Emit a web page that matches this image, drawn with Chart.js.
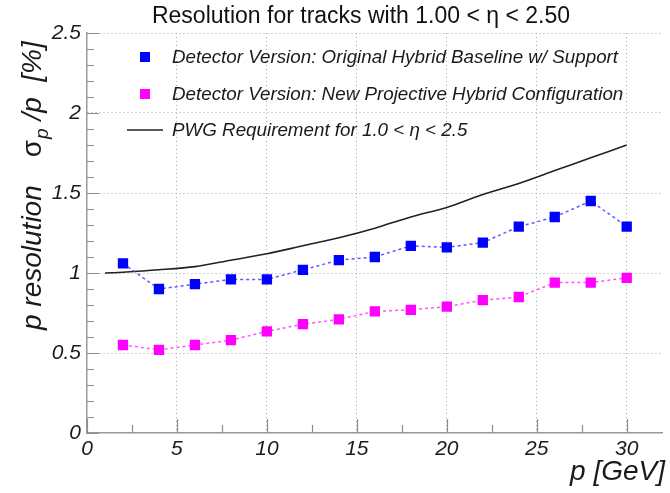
<!DOCTYPE html>
<html>
<head>
<meta charset="utf-8">
<script src="https://cdn.jsdelivr.net/npm/chart.js@4/dist/chart.umd.min.js"></script>
<style>
  html, body { margin: 0; padding: 0; background: #fff; }
  #wrap { width: 670px; height: 493px; }
</style>
</head>
<body>
<div id="wrap"><canvas id="resChart" width="670" height="493"></canvas></div>
<script>
// values
var momentum = [2, 4, 6, 8, 10, 12, 14, 16, 18, 20, 22, 24, 26, 28, 30];
var originalHybrid = [1.06, 0.90, 0.93, 0.96, 0.96, 1.02, 1.08, 1.10, 1.17, 1.16, 1.19, 1.29, 1.35, 1.45, 1.29];
var projectiveHybrid = [0.55, 0.52, 0.55, 0.58, 0.635, 0.68, 0.71, 0.76, 0.77, 0.79, 0.83, 0.85, 0.94, 0.94, 0.97];
var pwgMomentum = [1, 2, 4, 6, 8, 10, 12, 14, 16, 18, 20, 22, 24, 26, 28, 30];
var pwgRequirement = [1.00, 1.005, 1.02, 1.04, 1.08, 1.12, 1.17, 1.22, 1.28, 1.35, 1.41, 1.49, 1.56, 1.64, 1.72, 1.80];
var xTicks = [0, 5, 10, 15, 20, 25, 30];
var yTicks = [0, 0.5, 1, 1.5, 2, 2.5];
var yTickLabels = ['0', '0.5', '1', '1.5', '2', '2.5'];
var seriesLabels = [
  'Detector Version: Original Hybrid Baseline w/ Support',
  'Detector Version: New Projective Hybrid Configuration',
  'PWG Requirement for 1.0 < \u03b7 < 2.5'
];
var chartTitle = 'Resolution for tracks with 1.00 < \u03b7 < 2.50';

var FONT = "'Liberation Sans', Arial, sans-serif";

function toPoints(xs, ys) {
  return xs.map(function(x, i) { return {x: x, y: ys[i]}; });
}

// ROOT-like tick marks pointing into the frame
var insideTicks = {
  id: 'insideTicks',
  beforeDatasetsDraw: function(chart) {
    var ctx = chart.ctx, xs = chart.scales.x, ys = chart.scales.y, a = chart.chartArea;
    ctx.save();
    ctx.strokeStyle = '#8c8c8c';
    ctx.lineWidth = 1.2;
    ctx.beginPath();
    for (var i = 0; i <= 25; i++) {
      var py = Math.round(ys.getPixelForValue(i / 10)) + 0.5;
      var len = i % 5 === 0 ? 12 : 7;
      ctx.moveTo(a.left, py);
      ctx.lineTo(a.left + len, py);
    }
    for (var j = 0; j <= 12; j++) {
      var px = Math.round(xs.getPixelForValue(j * 2.5)) + 0.5;
      var l2 = j % 2 === 0 ? 14 : 8;
      ctx.moveTo(px, a.bottom);
      ctx.lineTo(px, a.bottom - l2);
    }
    ctx.stroke();
    ctx.restore();
  }
};

// title, legend box and axis titles
var decorations = {
  id: 'decorations',
  afterDraw: function(chart) {
    var ctx = chart.ctx;
    ctx.save();
    ctx.fillStyle = '#111';
    ctx.textBaseline = 'alphabetic';

    ctx.font = '23px ' + FONT;
    ctx.textAlign = 'center';
    ctx.fillText(chartTitle, 361, 23);

    // legend
    var rows = [57, 94, 130];
    ctx.textAlign = 'left';
    ctx.textBaseline = 'middle';
    ctx.font = 'italic 18.8px ' + FONT;
    chart.data.datasets.forEach(function(ds, i) {
      var y = rows[i];
      if (ds.pointRadius > 0) {
        ctx.fillStyle = ds.backgroundColor;
        ctx.fillRect(140, y - 5, 10, 10);
      } else {
        ctx.strokeStyle = ds.borderColor;
        ctx.lineWidth = ds.borderWidth;
        ctx.beginPath();
        ctx.moveTo(127, y);
        ctx.lineTo(163, y);
        ctx.stroke();
      }
      ctx.fillStyle = '#1a1a1a';
      ctx.fillText(seriesLabels[i], 172, y + 1);
    });

    // x axis title
    ctx.textBaseline = 'alphabetic';
    ctx.textAlign = 'right';
    ctx.font = 'italic 28px ' + FONT;
    ctx.fillText('p [GeV]', 665, 480);

    // y axis title, rotated
    ctx.save();
    ctx.translate(41, 330);
    ctx.rotate(-Math.PI / 2);
    ctx.textAlign = 'left';
    var x = 0;
    ctx.font = 'italic 28px ' + FONT;
    ctx.fillText('p resolution', x, 0);
    x += ctx.measureText('p resolution').width + 28;
    ctx.font = '28px ' + FONT;
    ctx.fillText('\u03c3', x, 0);
    x += ctx.measureText('\u03c3').width + 1;
    ctx.font = 'italic 19px ' + FONT;
    ctx.fillText('p', x, 7);
    x += ctx.measureText('p').width;
    ctx.font = 'italic 28px ' + FONT;
    ctx.fillText(' /p  [%]', x, 0);
    ctx.restore();

    ctx.restore();
  }
};

function gridColor(c) {
  return c.tick && c.tick.value === 0 ? 'rgba(0,0,0,0)' : '#a8a8a8';
}

new Chart(document.getElementById('resChart'), {
  type: 'scatter',
  data: {
    datasets: [{
        label: seriesLabels[0],
        data: toPoints(momentum, originalHybrid),
        showLine: true,
        borderColor: 'rgba(50, 50, 255, 0.8)',
        borderWidth: 1.5,
        borderDash: [3, 3],
        backgroundColor: '#0000ff',
        pointStyle: 'rect',
        pointRadius: 7.3,
        pointBorderWidth: 0,
        order: 1
      }, {
        label: seriesLabels[1],
        data: toPoints(momentum, projectiveHybrid),
        showLine: true,
        borderColor: 'rgba(255, 40, 255, 0.8)',
        borderWidth: 1.5,
        borderDash: [3, 3],
        backgroundColor: '#ff00ff',
        pointStyle: 'rect',
        pointRadius: 7.3,
        pointBorderWidth: 0,
        order: 2
      }, {
        label: seriesLabels[2],
        data: toPoints(pwgMomentum, pwgRequirement),
        showLine: true,
        borderColor: '#222222',
        borderWidth: 1.6,
        backgroundColor: '#222222',
        pointRadius: 0,
        tension: 0.3,
        order: 3
      }
    ]
  },
  options: {
    responsive: false,
    animation: false,
    layout: { padding: { top: 33, right: 3, left: 0, bottom: 0 } },
    plugins: {
      legend: { display: false },
      title: { display: false },
      tooltip: { enabled: false }
    },
    scales: {
      x: {
        type: 'linear',
        min: 0,
        max: 32,
        afterBuildTicks: function(scale) {
          scale.ticks = xTicks.map(function(v) { return {value: v}; });
        },
        afterFit: function(scale) { scale.height = 60; },
        ticks: {
          padding: 4,
          color: '#1a1a1a',
          font: { family: FONT, size: 21, style: 'italic' }
        },
        grid: { drawTicks: false, color: gridColor, lineWidth: 1 },
        border: { display: true, color: '#9a9a9a', width: 1.5, dash: [1, 3] }
      },
      y: {
        type: 'linear',
        min: 0,
        max: 2.5,
        afterBuildTicks: function(scale) {
          scale.ticks = yTicks.map(function(v) { return {value: v}; });
        },
        afterFit: function(scale) { scale.width = 87; },
        ticks: {
          padding: 6,
          color: '#1a1a1a',
          font: { family: FONT, size: 21, style: 'italic' },
          callback: function(v, i) { return yTickLabels[i]; }
        },
        grid: { drawTicks: false, color: gridColor, lineWidth: 1 },
        border: { display: true, color: '#9a9a9a', width: 1.5, dash: [1, 3] }
      }
    }
  },
  plugins: [insideTicks, decorations]
});
</script>
</body>
</html>
